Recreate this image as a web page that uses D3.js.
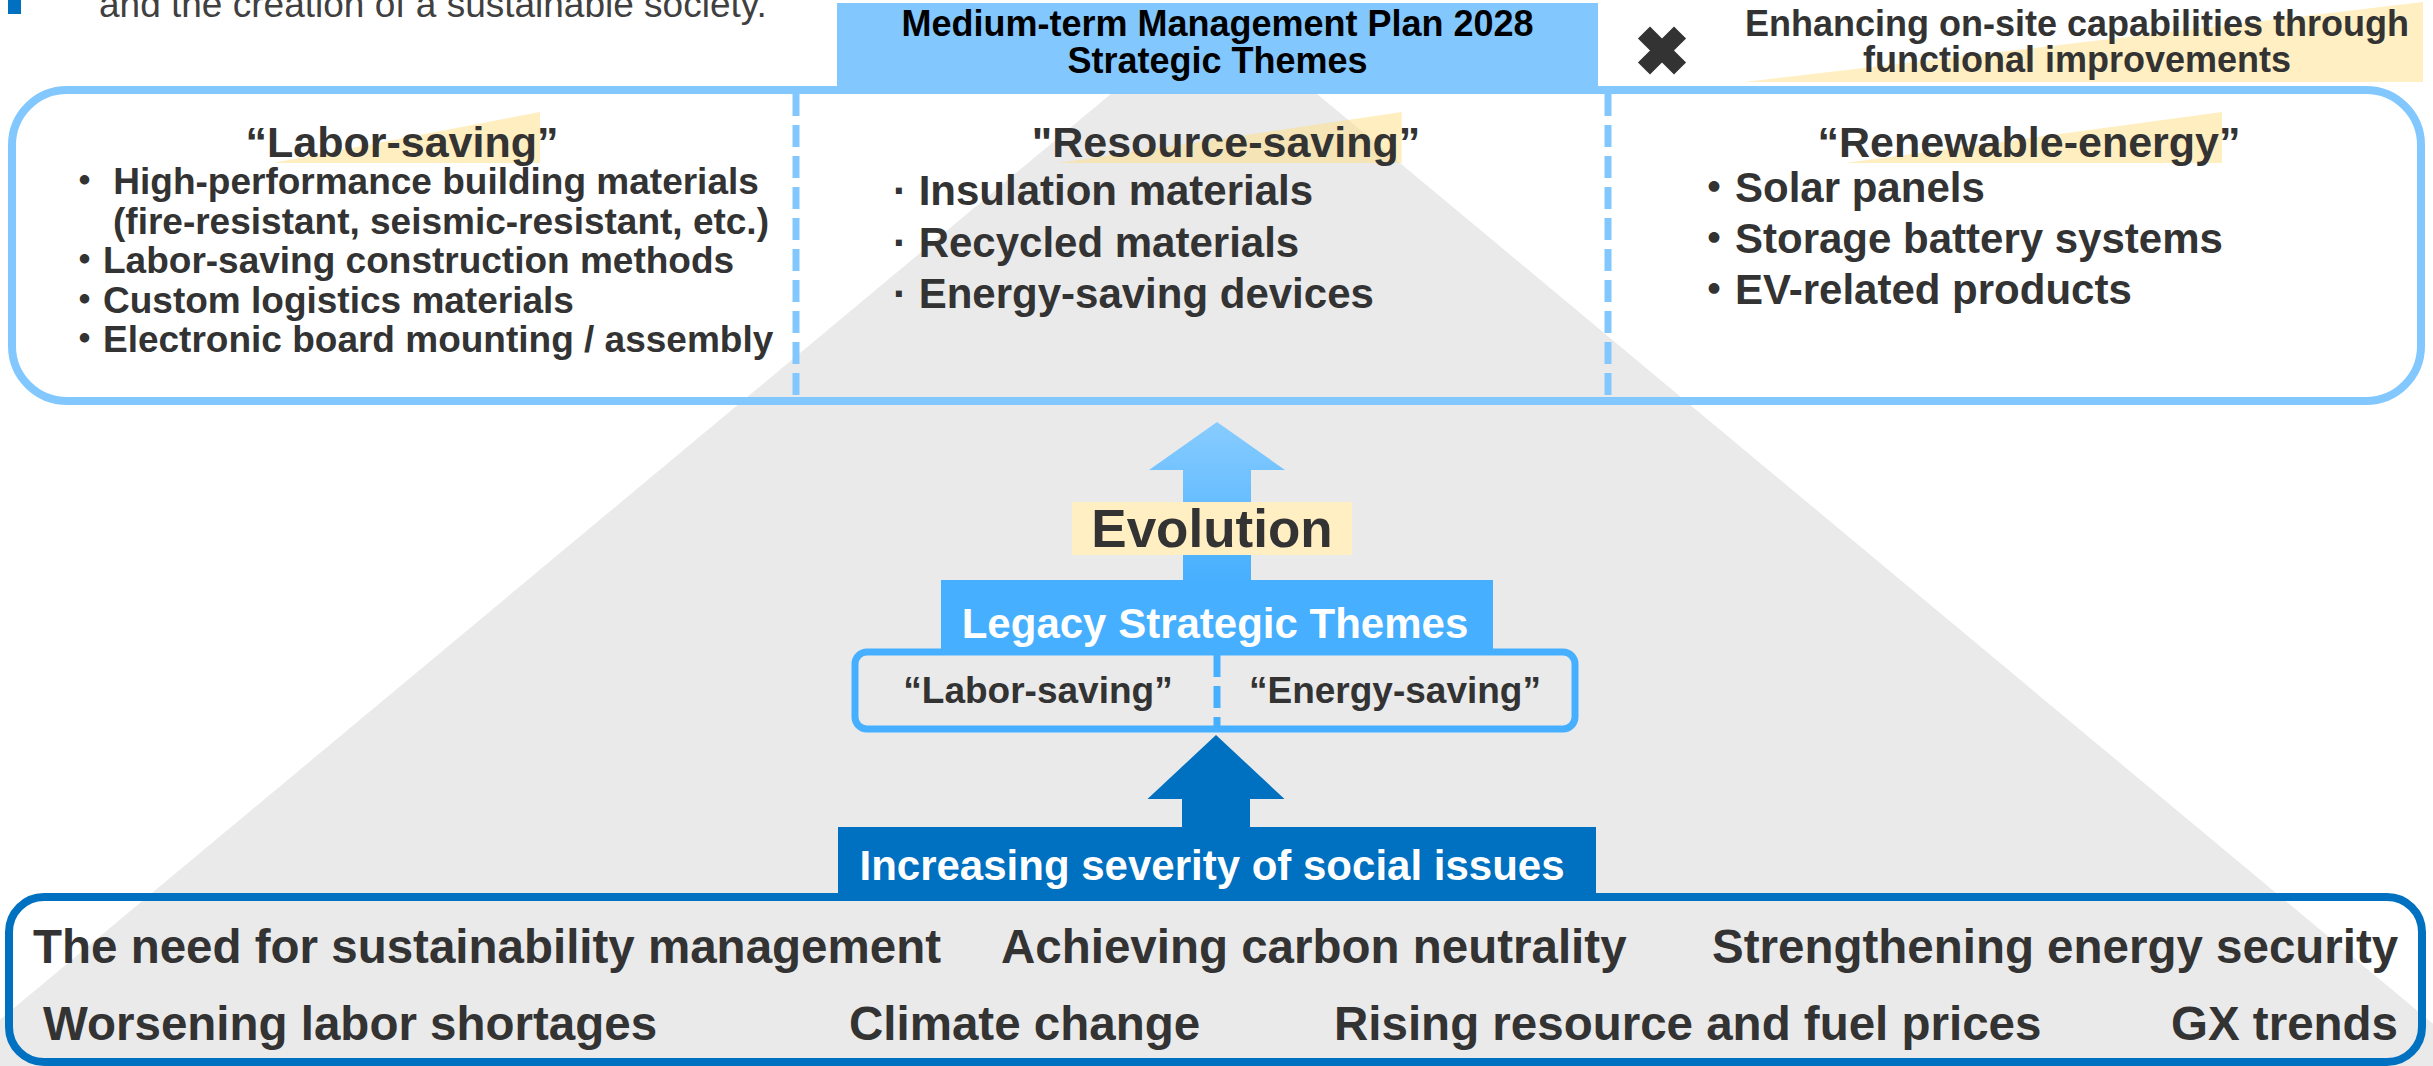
<!DOCTYPE html>
<html>
<head>
<meta charset="utf-8">
<script src="https://cdn.jsdelivr.net/npm/d3@7"></script>
<style>
  body { margin: 0; background: #fff; }
  svg { display: block; }
  text { font-family: "Liberation Sans", Arial, "Noto Sans CJK JP", sans-serif; }
</style>
</head>
<body>
<div id="chart"></div>
<script>
// ---- content ----
var introLine = 'and the creation of a sustainable society.';
var headerLines = ['Medium-term Management Plan 2028', 'Strategic Themes'];
var addOnLines = ['Enhancing on-site capabilities through', 'functional improvements'];
var themeTitles = ['“Labor-saving”', '"Resource-saving”', '“Renewable-energy”'];
var laborItems = [
    '・ High-performance building materials',
    '(fire-resistant, seismic-resistant, etc.)',
    '・Labor-saving construction methods',
    '・Custom logistics materials',
    '・Electronic board mounting / assembly'
];
var resourceItems = ['· Insulation materials', '· Recycled materials', '· Energy-saving devices'];
var energyItems = ['・Solar panels', '・Storage battery systems', '・EV-related products'];
var evolutionLabel = 'Evolution';
var legacyTitle = 'Legacy Strategic Themes';
var legacyThemes = ['“Labor-saving”', '“Energy-saving”'];
var issuesTitle = 'Increasing severity of social issues';
var issuesRow1 = ['The need for sustainability management', 'Achieving carbon neutrality', 'Strengthening energy security'];
var issuesRow2 = ['Worsening labor shortages', 'Climate change', 'Rising resource and fuel prices', 'GX trends'];

// ---- layout ----
var width = 2433;
var height = 1066;
var ink = '#333333';
var lightBlue = '#82C8FF';
var midBlue = '#46AFFF';
var darkBlue = '#0070C0';
var cream = '#FFEFC2';

var topBox = {x0: 12, x1: 2421, y0: 90, y1: 401, r: 55};
var dividers = [796, 1608];
var titleCenters = [402, 1226, 2029];
var itemCols = [
    {items: laborItems, x: 66, indentX: 113, y: 194, step: 39.5, size: 37},
    {items: resourceItems, x: 893, y: 205, step: 51.5, size: 42},
    {items: energyItems, x: 1693, y: 202, step: 51, size: 42}
];
var row1X = [33, 1001, 1712];
var row2X = [43, 849, 1334, 2171];

var svg = d3.select('#chart').append('svg')
    .attr('width', width)
    .attr('height', height);

// gray pyramid in the background
var apexX = 1214, apexY = 8, slope = 1.2;
var tri = d3.scaleLinear().domain([apexY, height]).range([0, (height - apexY) * slope]);
svg.append('path')
    .attr('d', `M${apexX},${apexY}L${apexX + tri(height)},${height}L${apexX - tri(height)},${height}Z`)
    .attr('fill', '#EAEAEA');

// small blue mark and cut-off intro line
svg.append('rect').attr('x', 8).attr('y', 0).attr('width', 13).attr('height', 14).attr('fill', darkBlue);
svg.append('text')
    .text(introLine)
    .attr('x', 99).attr('y', 17)
    .attr('font-size', 37)
    .attr('fill', '#404040');

// top box
svg.append('rect')
    .attr('x', topBox.x0).attr('y', topBox.y0)
    .attr('width', topBox.x1 - topBox.x0).attr('height', topBox.y1 - topBox.y0)
    .attr('rx', topBox.r).attr('ry', topBox.r)
    .attr('fill', 'none')
    .attr('stroke', lightBlue)
    .attr('stroke-width', 8);

svg.selectAll('line.divider')
    .data(dividers)
    .enter()
    .append('line')
    .attr('class', 'divider')
    .attr('x1', d => d).attr('x2', d => d)
    .attr('y1', topBox.y0 + 4).attr('y2', topBox.y1 - 4)
    .attr('stroke', lightBlue)
    .attr('stroke-width', 7)
    .attr('stroke-dasharray', '22 9');

// header tab
svg.append('rect')
    .attr('x', 837).attr('y', 3)
    .attr('width', 761).attr('height', 90)
    .attr('fill', lightBlue);

svg.selectAll('text.header')
    .data(headerLines)
    .enter()
    .append('text')
    .attr('class', 'header')
    .text(d => d)
    .attr('x', 1217.5)
    .attr('y', (d, i) => 36 + i * 37)
    .attr('text-anchor', 'middle')
    .attr('font-size', 36)
    .attr('font-weight', 'bold')
    .attr('fill', '#000');

// "x" mark
var cross = svg.append('g').attr('transform', 'translate(1662,50.5)');
[45, -45].forEach(a => {
    cross.append('rect')
        .attr('x', -25.5).attr('y', -8.5)
        .attr('width', 51).attr('height', 17)
        .attr('transform', `rotate(${a})`)
        .attr('fill', ink);
});

// add-on text with its wedge
var wedgeLayer = svg.append('g');
var addOn = svg.selectAll('text.addon')
    .data(addOnLines)
    .enter()
    .append('text')
    .attr('class', 'addon')
    .text(d => d)
    .attr('x', 2077)
    .attr('y', (d, i) => 36 + i * 36)
    .attr('text-anchor', 'middle')
    .attr('font-size', 36)
    .attr('font-weight', 'bold')
    .attr('fill', ink);

var addStart = addOn.node().getStartPositionOfChar(0).x;
wedgeLayer.append('path')
    .attr('d', `M${addStart},82L2423,2L2423,82Z`)
    .attr('fill', cream);

// theme titles with wedges
var titles = svg.selectAll('text.title')
    .data(themeTitles)
    .enter()
    .append('text')
    .attr('class', 'title')
    .text(d => d)
    .attr('x', (d, i) => titleCenters[i])
    .attr('y', 157)
    .attr('text-anchor', 'middle')
    .attr('font-size', 43)
    .attr('font-weight', 'bold')
    .attr('fill', ink);

titles.each(function (d) {
    var x0 = this.getStartPositionOfChar(1).x + 6;
    var x1 = this.getEndPositionOfChar(d.length - 2).x + 3;
    wedgeLayer.append('path')
        .attr('d', `M${x0},163L${x1},112L${x1},163Z`)
        .attr('fill', 'rgb(255,222,130)')
        .attr('fill-opacity', 0.5);
});

// bullet items
itemCols.forEach(col => {
    svg.append('g')
        .selectAll('text')
        .data(col.items)
        .enter()
        .append('text')
        .text(d => d)
        .attr('x', d => (col.indentX && d[0] === '(') ? col.indentX : col.x)
        .attr('y', (d, i) => col.y + i * col.step)
        .attr('font-size', col.size)
        .attr('font-weight', 'bold')
        .attr('fill', ink);
});

// light arrow (evolution)
var grad = svg.append('defs').append('linearGradient')
    .attr('id', 'upGrad')
    .attr('x1', 0).attr('y1', 0).attr('x2', 0).attr('y2', 1);
grad.append('stop').attr('offset', '0%').attr('stop-color', '#88CCFF');
grad.append('stop').attr('offset', '100%').attr('stop-color', '#46AFFF');

function arrowPath(cx, tip, headBase, bottom, headHalf, shaftHalf) {
    return `M${cx},${tip}L${cx + headHalf},${headBase}L${cx + shaftHalf},${headBase}` +
        `L${cx + shaftHalf},${bottom}L${cx - shaftHalf},${bottom}L${cx - shaftHalf},${headBase}` +
        `L${cx - headHalf},${headBase}Z`;
}

svg.append('path')
    .attr('d', arrowPath(1217, 422, 470, 582, 68, 34))
    .attr('fill', 'url(#upGrad)');

svg.append('rect')
    .attr('x', 1072).attr('y', 502)
    .attr('width', 280).attr('height', 53)
    .attr('fill', cream);
svg.append('text')
    .text(evolutionLabel)
    .attr('x', 1212).attr('y', 547)
    .attr('text-anchor', 'middle')
    .attr('font-size', 53)
    .attr('font-weight', 'bold')
    .attr('fill', ink);

// legacy themes
svg.append('rect')
    .attr('x', 855).attr('y', 652)
    .attr('width', 720).attr('height', 77)
    .attr('rx', 12).attr('ry', 12)
    .attr('fill', 'none')
    .attr('stroke', midBlue)
    .attr('stroke-width', 7);
svg.append('line')
    .attr('x1', 1217).attr('x2', 1217)
    .attr('y1', 655).attr('y2', 726)
    .attr('stroke', midBlue)
    .attr('stroke-width', 7)
    .attr('stroke-dasharray', '22 9');
svg.append('rect')
    .attr('x', 941).attr('y', 580)
    .attr('width', 552).attr('height', 73)
    .attr('fill', midBlue);
svg.append('text')
    .text(legacyTitle)
    .attr('x', 1215).attr('y', 638)
    .attr('text-anchor', 'middle')
    .attr('font-size', 42)
    .attr('font-weight', 'bold')
    .attr('fill', '#fff');

var legacyX = d3.scalePoint().domain(legacyThemes).range([1038, 1395]);
svg.selectAll('text.legacy')
    .data(legacyThemes)
    .enter()
    .append('text')
    .attr('class', 'legacy')
    .text(d => d)
    .attr('x', d => legacyX(d))
    .attr('y', 703)
    .attr('text-anchor', 'middle')
    .attr('font-size', 37)
    .attr('font-weight', 'bold')
    .attr('fill', ink);

// dark arrow (social issues)
svg.append('path')
    .attr('d', arrowPath(1216, 735, 799, 829, 68.5, 34))
    .attr('fill', darkBlue);

// issues box
svg.append('rect')
    .attr('x', 9).attr('y', 897)
    .attr('width', 2413).attr('height', 165)
    .attr('rx', 35).attr('ry', 35)
    .attr('fill', 'none')
    .attr('stroke', darkBlue)
    .attr('stroke-width', 8);
svg.append('rect')
    .attr('x', 838).attr('y', 827)
    .attr('width', 758).attr('height', 70)
    .attr('fill', darkBlue);
svg.append('text')
    .text(issuesTitle)
    .attr('x', 1212).attr('y', 880)
    .attr('text-anchor', 'middle')
    .attr('font-size', 42)
    .attr('font-weight', 'bold')
    .attr('fill', '#fff');

[[issuesRow1, row1X, 963], [issuesRow2, row2X, 1040]].forEach(([row, xs, y]) => {
    svg.append('g')
        .selectAll('text')
        .data(row)
        .enter()
        .append('text')
        .text(d => d)
        .attr('x', (d, i) => xs[i])
        .attr('y', y)
        .attr('font-size', 47.5)
        .attr('font-weight', 'bold')
        .attr('fill', ink);
});
</script>
</body>
</html>
